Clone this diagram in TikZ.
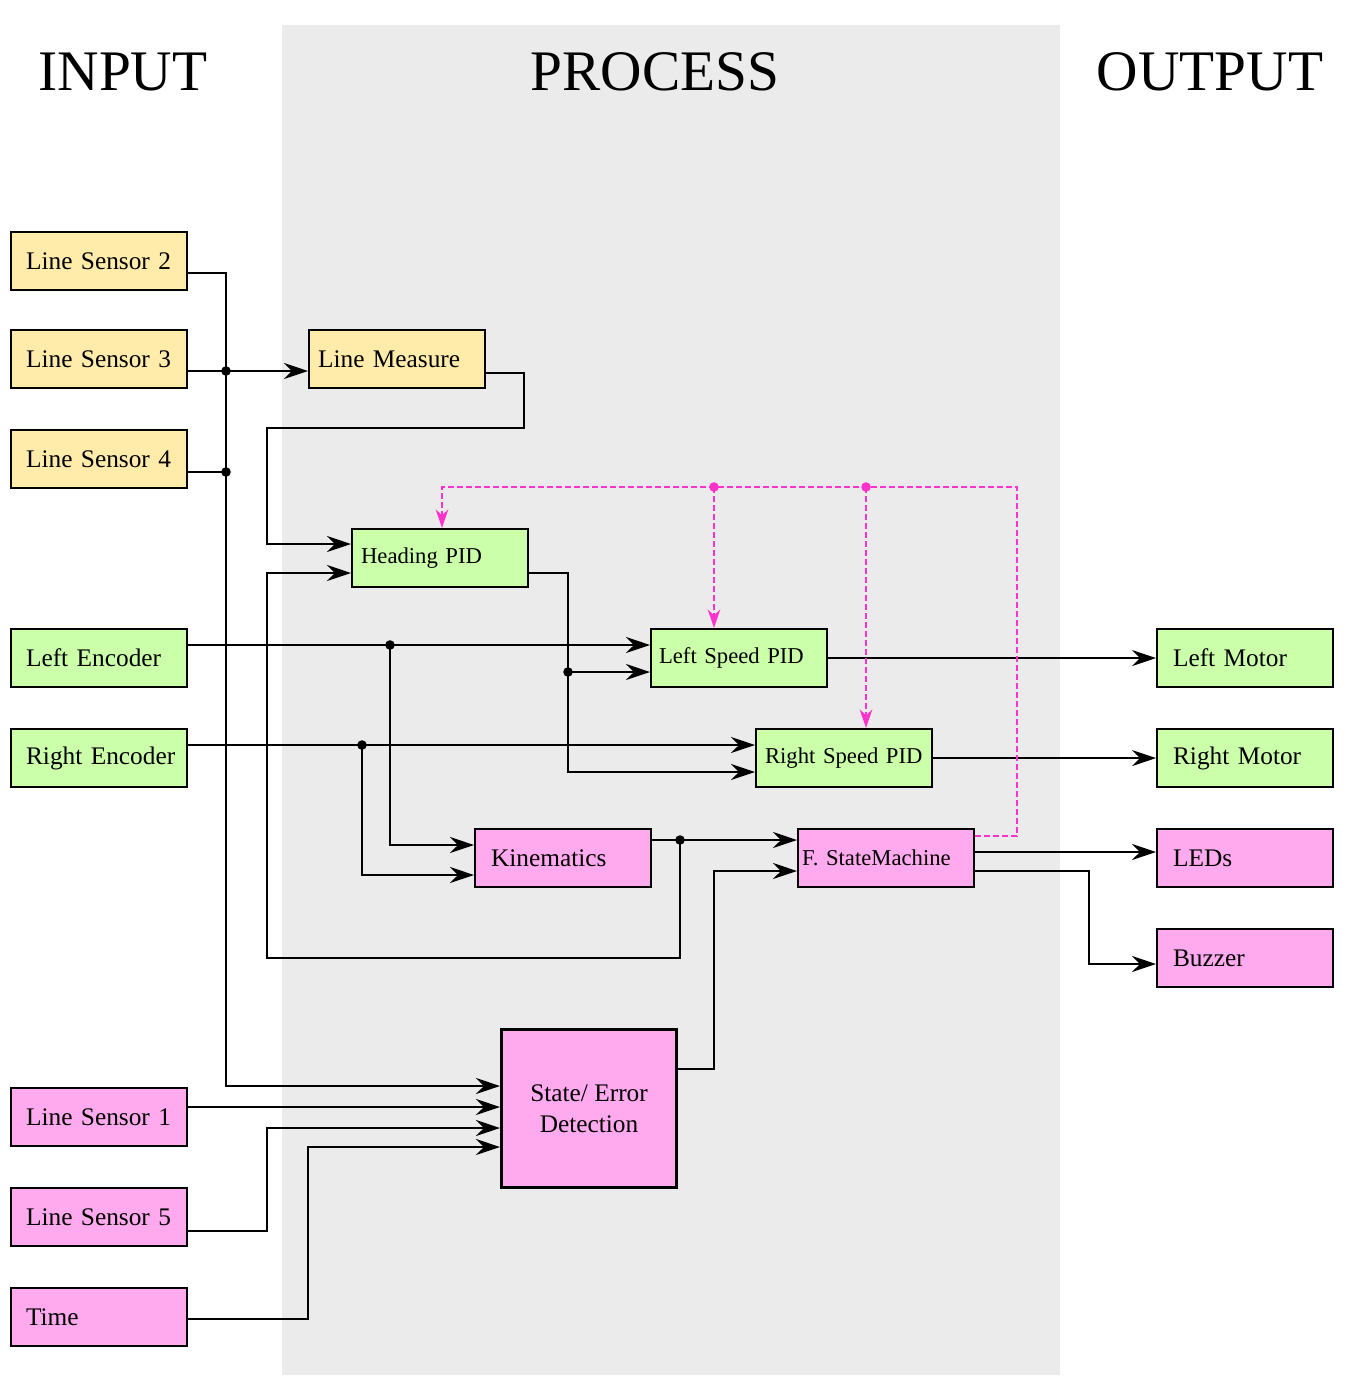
\documentclass[tikz,border=0pt]{standalone}
\usepackage{fontspec}
\setmainfont{Liberation Serif}
\usetikzlibrary{arrows.meta}
\definecolor{cy}{RGB}{255,236,170}
\definecolor{cg}{RGB}{204,255,170}
\definecolor{cp}{RGB}{255,170,238}
\definecolor{cm}{RGB}{255,51,204}
\definecolor{bgg}{RGB}{235,235,235}
\begin{document}
\begin{tikzpicture}[x=0.75pt,y=-0.75pt,
  box/.style={draw, line width=1.6pt, minimum height=43.5pt, inner ysep=0pt, anchor=north west, align=left, font=\fontsize{19}{23}\selectfont},
  boxs/.style={box, font=\fontsize{17}{21}\selectfont},
  padA/.style={inner xsep=11.25pt, text width=109.5pt},
  padB/.style={inner xsep=6.75pt, text width=118.5pt},
  padC/.style={inner xsep=12pt, text width=108pt},
  padD/.style={inner xsep=3pt, text width=126pt},
  padE/.style={inner xsep=6pt, text width=120pt},
  ttl/.style={font=\fontsize{43}{50}\selectfont, inner sep=0pt},
  ln/.style={line width=1.4pt},
  ar/.style={line width=1.4pt, -{Stealth[length=18pt,width=12pt,inset=6pt]}},
  mg/.style={draw=cm, line width=1.2pt, dash pattern=on 4.5pt off 2.25pt},
  mgar/.style={mg, -{Stealth[length=14pt,width=9.5pt,inset=4.5pt]}},
  dot/.style={fill=black},
  mdot/.style={fill=cm}
]
\useasboundingbox (0,0) rectangle (1350,1382);
\fill[bgg] (282,25) rectangle (1060,1375);

% titles
\node[ttl] (tin) at (123,72) {INPUT};
\node[ttl] (tpr) at (655,72) {PROCESS};
\node[ttl] (tout) at (1210,72) {OUTPUT};

% input column
\node[box, padA, fill=cy] (ls2) at (10,231) {\mbox{Line Sensor 2}};
\node[box, padA, fill=cy] (ls3) at (10,329) {\mbox{Line Sensor 3}};
\node[box, padA, fill=cy] (ls4) at (10,429) {\mbox{Line Sensor 4}};
\node[box, padA, fill=cg] (le) at (10,628) {\mbox{Left Encoder}};
\node[box, padA, fill=cg] (re) at (10,728) {\mbox{Right Encoder}};
\node[box, padA, fill=cp] (ls1) at (10,1087) {\mbox{Line Sensor 1}};
\node[box, padA, fill=cp] (ls5) at (10,1187) {\mbox{Line Sensor 5}};
\node[box, padA, fill=cp] (tm) at (10,1287) {\mbox{Time}};

% output column
\node[box, padC, fill=cg] (lmot) at (1156,628) {\mbox{Left Motor}};
\node[box, padC, fill=cg] (rmot) at (1156,728) {\mbox{Right Motor}};
\node[box, padC, fill=cp] (leds) at (1156,828) {\mbox{LEDs}};
\node[box, padC, fill=cp] (buz) at (1156,928) {\mbox{Buzzer}};

% process
\node[box, padB, fill=cy] (lm) at (308,329) {\mbox{Line Measure}};
\node[boxs, padB, fill=cg] (hp) at (351,528) {\mbox{Heading PID}};
\node[boxs, padE, fill=cg] (lsp) at (650,628) {\mbox{Left Speed PID}};
\node[boxs, padB, fill=cg] (rsp) at (755,728) {\mbox{Right Speed PID}};
\node[box, padC, fill=cp] (kin) at (474,828) {\mbox{Kinematics}};
\node[boxs, padD, fill=cp] (sm) at (797,828) {\mbox{F. StateMachine}};
\node[box, line width=2.3pt, align=center, fill=cp, minimum width=131.25pt, minimum height=118.5pt, inner sep=0pt] (se) at (500,1028) {State/ Error\\Detection};

% junctions
\coordinate (j3) at (226,371);
\coordinate (j4) at (226,472);
\coordinate (jle) at (390,645);
\coordinate (jre) at (362,745);
\coordinate (jh) at (568,672);
\coordinate (jk) at (680,840);
\coordinate (mj1) at (714,487);
\coordinate (mj2) at (866,487);

% line sensors 2-4
\draw[ar] (ls2.east |- 0,273) -| (226,1086) -- (se.west |- 0,1086);
\draw[ar] (ls3.east |- 0,371) -- (lm.west |- 0,371);
\draw[ln] (ls4.east |- 0,472) -- (j4);

% line measure -> heading
\draw[ar] (lm.east |- 0,373) -| (524,428) -| (267,544) -- (hp.west |- 0,544);

% kinematics -> state machine, feedback -> heading
\draw[ar] (kin.east |- 0,840) -- (sm.west |- 0,840);
\draw[ar] (jk) -- (680,958) -- (267,958) -- (267,573) -- (hp.west |- 0,573);

% heading -> speed pids
\draw[ar] (hp.east |- 0,573) -| (568,772) -- (rsp.west |- 0,772);
\draw[ar] (jh) -- (lsp.west |- 0,672);

% encoders
\draw[ar] (le.east |- 0,645) -- (lsp.west |- 0,645);
\draw[ar] (jle) |- (kin.west |- 0,845);
\draw[ar] (re.east |- 0,745) -- (rsp.west |- 0,745);
\draw[ar] (jre) |- (kin.west |- 0,875);

% outputs
\draw[ar] (lsp.east) -- (lmot.west);
\draw[ar] (rsp.east) -- (rmot.west);
\draw[ar] (sm.east |- 0,852) -- (leds.west |- 0,852);
\draw[ar] (sm.east |- 0,871) -| (1089,964) -- (buz.west |- 0,964);

% state/error detection
\draw[ar] (se.east |- 0,1069) -| (714,871) -- (sm.west |- 0,871);
\draw[ar] (ls1.east |- 0,1107) -- (se.west |- 0,1107);
\draw[ar] (ls5.east |- 0,1231) -| (267,1128) -- (se.west |- 0,1128);
\draw[ar] (tm.east |- 0,1319) -| (308,1147) -- (se.west |- 0,1147);

% magenta feedback
\draw[mgar] (sm.east |- 0,836) -| (1017,487) -| (hp.north -| 442,0);
\draw[mgar] (mj1) -- (lsp.north -| 714,0);
\draw[mgar] (mj2) -- (rsp.north -| 866,0);

% dots
\foreach \p in {j3,j4,jle,jre,jh,jk} \fill[dot] (\p) circle (3.6pt);
\foreach \p in {mj1,mj2} \fill[mdot] (\p) circle (3.6pt);
\end{tikzpicture}
\end{document}
